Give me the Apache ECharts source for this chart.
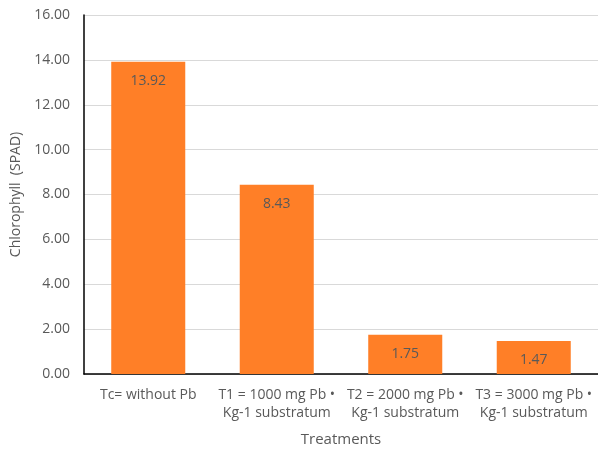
<!DOCTYPE html>
<html>
<head>
<meta charset="utf-8">
<script src="https://cdn.jsdelivr.net/npm/echarts@6/dist/echarts.min.js"></script>
<style>html,body{margin:0;padding:0;background:#fff}#c{width:598px;height:451px}</style>
</head>
<body>
<div id="c"></div>
<script>
var categories = ['Tc= without Pb', 'T1 = 1000 mg Pb •\nKg-1 substratum', 'T2 = 2000 mg Pb •\nKg-1 substratum', 'T3 = 3000 mg Pb •\nKg-1 substratum'];
var chlorophyll = [13.92, 8.43, 1.75, 1.47];
var yTicks = { min: 0, max: 16, interval: 2 };

var chart = echarts.init(document.getElementById('c'));
chart.setOption({
  animation: false,
  textStyle: { fontFamily: 'Open Sans, Liberation Sans, sans-serif' },
  grid: { left: 84, right: 0, top: 15, bottom: 77, containLabel: false, outerBoundsMode: 'none' },
  xAxis: {
    type: 'category',
    data: categories,
    name: 'Treatments',
    nameLocation: 'middle',
    nameGap: 58,
    nameTextStyle: { color: '#595959', fontSize: 15 },
    axisLine: { lineStyle: { color: '#000', width: 1.5 } },
    axisTick: { show: false },
    axisLabel: { color: '#595959', fontSize: 14, lineHeight: 18, margin: 12, interval: 0 }
  },
  yAxis: {
    type: 'value',
    min: yTicks.min, max: yTicks.max, interval: yTicks.interval,
    name: 'Chlorophyll  (SPAD)',
    nameLocation: 'middle',
    nameGap: 60,
    nameTextStyle: { color: '#595959', fontSize: 14 },
    axisLine: { show: true, lineStyle: { color: '#000', width: 1.5 } },
    axisTick: { show: false },
    axisLabel: { color: '#595959', fontSize: 14, margin: 14, formatter: function (v) { return v.toFixed(2); } },
    splitLine: { lineStyle: { color: '#d9d9d9', width: 1 } }
  },
  series: [{
    type: 'bar',
    data: chlorophyll,
    barWidth: '57.6%',
    itemStyle: { color: '#FF7F27' },
    label: {
      show: true, position: 'insideTop', distance: 12,
      color: '#595959', fontSize: 14,
      formatter: function (p) { return p.value.toFixed(2); }
    }
  }]
});
</script>
</body>
</html>
